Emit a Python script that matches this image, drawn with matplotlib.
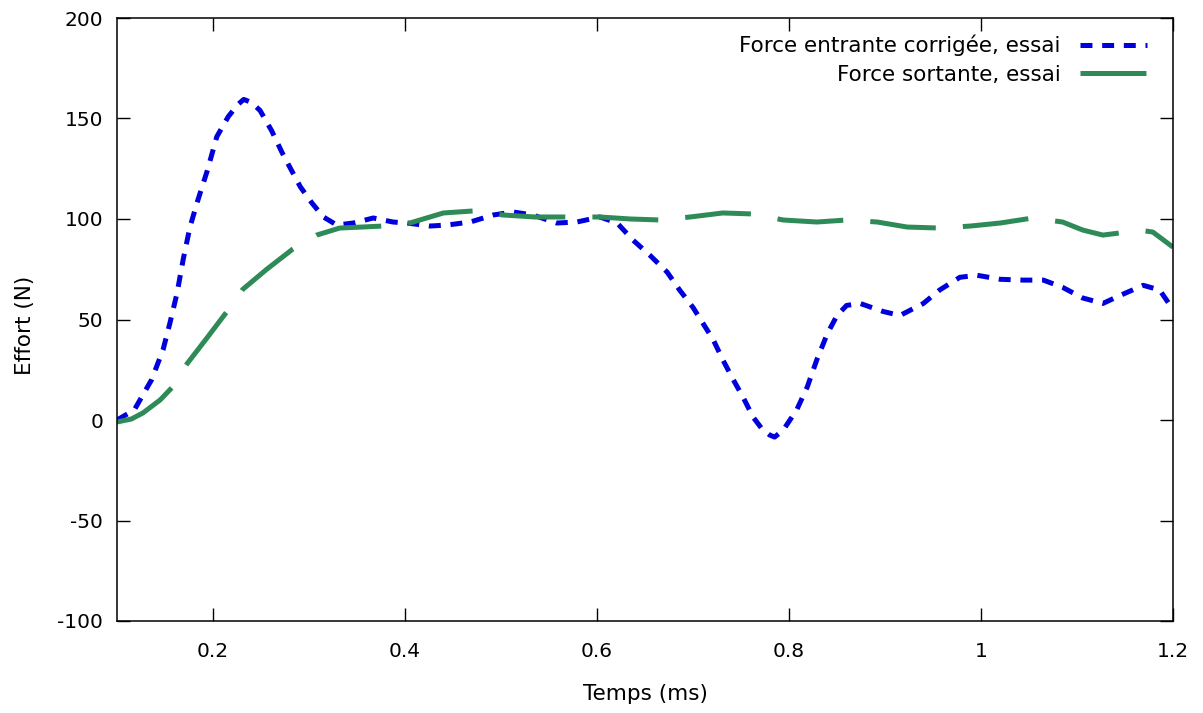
import matplotlib
matplotlib.use("Agg")
import matplotlib.pyplot as plt

# data (temps en ms, effort en N)
t_entrante = [0.100, 0.118, 0.136, 0.148, 0.155, 0.1625, 0.169, 0.176, 0.184, 0.194,
              0.204, 0.216, 0.226, 0.232, 0.240, 0.249, 0.261, 0.272, 0.282, 0.291,
              0.303, 0.315, 0.329, 0.346, 0.367, 0.3875, 0.402, 0.426, 0.444, 0.468,
              0.492, 0.5125, 0.533, 0.558, 0.579, 0.603, 0.621, 0.6375, 0.655, 0.673,
              0.686, 0.700, 0.7105, 0.721, 0.731, 0.742, 0.752, 0.7625, 0.772, 0.780,
              0.785, 0.794, 0.808, 0.819, 0.829, 0.840, 0.850, 0.860, 0.874, 0.898,
              0.9156, 0.940, 0.957, 0.978, 0.996, 1.020, 1.044, 1.065, 1.085, 1.106,
              1.127, 1.145, 1.169, 1.186, 1.200]
f_entrante = [0, 5, 20, 35, 48, 63, 80, 96, 109, 124,
              141, 151, 157, 159.5, 158, 154, 144, 133, 124, 116,
              108, 101, 97, 98, 100.5, 98.5, 98, 96.5, 97, 98.5,
              102, 103.5, 102, 98, 98.5, 101, 98, 89.5, 82, 73.6,
              64.7, 56, 48, 40, 30, 20, 11.5, 1.5, -4.5, -7.5,
              -8.5, -5, 5, 16.4, 30, 43, 52, 57, 58, 54,
              52, 58, 64.7, 71, 72, 70, 69.6, 69.6, 66, 60.7,
              58, 62, 67, 64.7, 55]

t_sortante = [0.100, 0.115, 0.127, 0.145, 0.157, 0.173, 0.194, 0.2146, 0.231, 0.256,
              0.283, 0.308, 0.332, 0.355, 0.377, 0.405, 0.440, 0.471, 0.502, 0.535,
              0.569, 0.603, 0.635, 0.666, 0.697, 0.731, 0.7625, 0.794, 0.829, 0.860,
              0.892, 0.923, 0.957, 0.989, 1.020, 1.054, 1.085, 1.106, 1.127, 1.152,
              1.165, 1.179, 1.200]
f_sortante = [-1, 0.5, 3.5, 10, 16, 28, 41, 54, 65, 75,
              85, 92, 95.5, 96, 96.5, 98, 103, 104, 102, 101,
              101, 101, 100, 99.5, 101, 103, 102.5, 99.5, 98.5, 99.5,
              98.5, 96, 95.5, 96.5, 98, 100.5, 98.5, 94.5, 92, 93.5,
              94.5, 93.5, 86]

x_ticks = [0.2, 0.4, 0.6, 0.8, 1.0, 1.2]
x_ticklabels = ["0.2", "0.4", "0.6", "0.8", "1", "1.2"]
y_ticks = [-100, -50, 0, 50, 100, 150, 200]

plt.rcParams["font.family"] = ["DejaVu Sans"]
plt.rcParams["font.size"] = 15.5
plt.rcParams["axes.unicode_minus"] = False
plt.rcParams["lines.scale_dashes"] = False

fig = plt.figure(figsize=(12.03, 7.13), dpi=100)
ax = fig.add_axes([117 / 1203, 92 / 713, 1056 / 1203, 603 / 713])

ax.plot(t_entrante, f_entrante, color="#0000dd", lw=3.6,
        linestyle=(0, (8.6, 7.0)), dash_capstyle="butt",
        label="Force entrante corrigée, essai")
ax.plot(t_sortante, f_sortante, color="#2e8b57", lw=3.6,
        linestyle=(0, (47.5, 19.5)), dash_capstyle="butt",
        label="Force sortante, essai")

ax.set_xlim(0.1, 1.2)
ax.set_ylim(-100, 200)
ax.set_xticks(x_ticks)
ax.set_xticklabels(x_ticklabels)
ax.set_yticks(y_ticks)
ax.tick_params(direction="in", length=9.5, width=1.0, top=True, right=True,
               labelsize=14.5)
ax.tick_params(axis="x", pad=15)
ax.tick_params(axis="y", pad=10)
for s in ax.spines.values():
    s.set_linewidth(1.1)

ax.set_xlabel("Temps (ms)")
ax.set_ylabel("Effort (N)")
ax.xaxis.set_label_coords(0.5, -0.104)
ax.yaxis.set_label_coords(-0.078, 0.49)

ax.legend(loc="upper right", bbox_to_anchor=(0.975, 0.972), frameon=False,
          markerfirst=False, handlelength=3.1, handletextpad=0.9,
          labelspacing=0.4, borderpad=0, borderaxespad=0)

fig.savefig("out.png", dpi=100)
